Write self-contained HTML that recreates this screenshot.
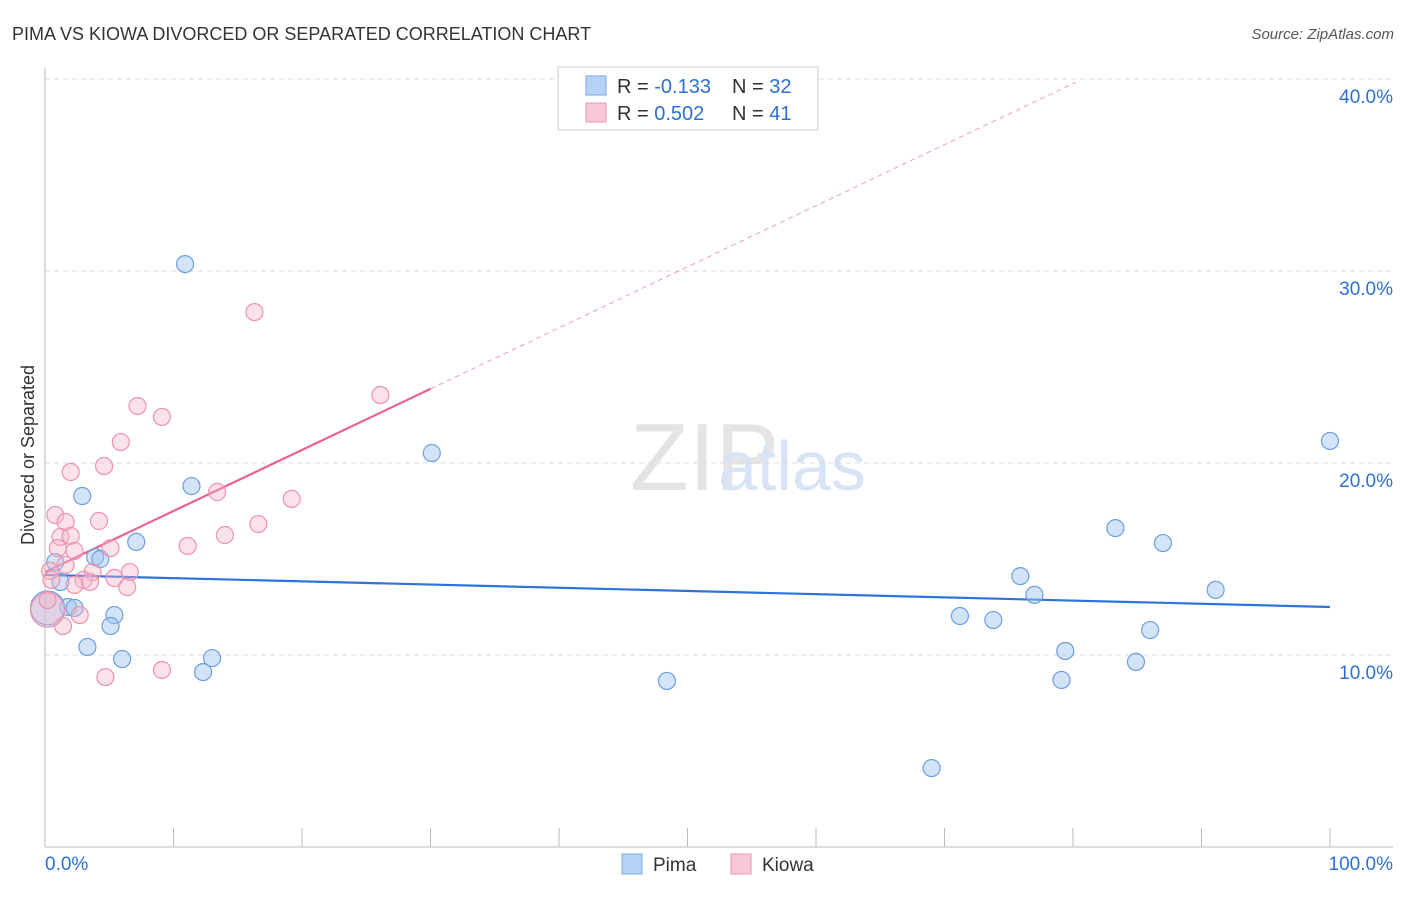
<!DOCTYPE html>
<html><head><meta charset="utf-8"><style>
body{margin:0;background:#fff;font-family:"Liberation Sans",sans-serif}
svg text{font-family:"Liberation Sans",sans-serif}
</style></head><body>
<svg width="1406" height="892" xmlns="http://www.w3.org/2000/svg" id="chart">
<text x="12" y="40" font-size="18" fill="#333">PIMA VS KIOWA DIVORCED OR SEPARATED CORRELATION CHART</text>
<text x="1394" y="39" font-size="15" fill="#555" text-anchor="end" font-style="italic">Source: ZipAtlas.com</text>
<text x="630" y="490" font-size="96" fill="#e4e4e4" font-family="Liberation Serif">ZIP</text>
<text x="718" y="490" font-size="70" fill="#d6e4f5">atlas</text>
<text transform="translate(34,455) rotate(-90)" font-size="18" fill="#333" text-anchor="middle">Divorced or Separated</text>
<g id="grid"></g><g id="ticks"></g><g id="lines"></g><g id="pts"></g>
<g>
<rect x="558" y="67" width="260" height="63" fill="#fff" stroke="#ccc"/>
<rect x="586" y="76" width="20" height="19" fill="#b6d3f5" stroke="#7aa8e0"/>
<rect x="586" y="103" width="20" height="19" fill="#f9c8d6" stroke="#e99ab2"/>
<text x="617" y="93" font-size="20" fill="#333">R = <tspan fill="#2d6fd6">-0.133</tspan><tspan x="732">N = </tspan><tspan fill="#2d6fd6">32</tspan></text>
<text x="617" y="120" font-size="20" fill="#333">R = <tspan fill="#2d6fd6"> 0.502</tspan><tspan x="732">N = </tspan><tspan fill="#2d6fd6">41</tspan></text>
</g>
<g>
<rect x="622" y="854" width="20" height="20" fill="#b6d3f5" stroke="#7aa8e0"/>
<text x="653" y="871" font-size="19" fill="#333">Pima</text>
<rect x="731" y="854" width="20" height="20" fill="#f9c8d6" stroke="#e99ab2"/>
<text x="762" y="871" font-size="19" fill="#333">Kiowa</text>
</g>
</svg>
<script>
const yTicks=[10,20,30,40];
const yTickLabels=["10.0%","20.0%","30.0%","40.0%"];
const xTickLabels=["0.0%","100.0%"];
const pimaX=[10.9,30.1,2.9,11.4,7.1,3.9,4.3,0.8,1.2,1.8,2.3,5.4,5.1,3.3,6.0,13.0,12.3,48.4,100,83.3,87.0,75.9,77.0,71.2,73.8,86.0,91.1,79.4,84.9,79.1,69.0,0.2];
const pimaY=[30.36,20.52,18.28,18.8,15.89,15.1,15.0,14.84,13.8,12.5,12.45,12.08,11.51,10.42,9.79,9.84,9.11,8.65,21.15,16.61,15.83,14.11,13.13,12.03,11.82,11.3,13.39,10.21,9.64,8.7,4.11,12.45];
const kiowaX=[16.3,26.1,7.2,9.1,5.9,4.6,2.0,13.4,19.2,0.8,1.6,4.2,16.6,14.0,1.2,2.0,11.1,5.1,2.3,1.0,1.6,0.4,3.7,6.6,3.0,0.5,5.4,3.5,6.4,2.3,2.7,1.4,4.7,9.1,0.2,0.2];
const kiowaY=[27.86,23.54,22.97,22.4,21.09,19.84,19.53,18.49,18.13,17.29,16.93,16.98,16.82,16.25,16.15,16.2,15.68,15.57,15.42,15.57,14.69,14.38,14.32,14.32,13.91,13.91,14.01,13.8,13.54,13.65,12.08,11.51,8.85,9.22,12.34,12.86];
const pimaTrend=[14.17,12.5]; // y at x=0, x=100
const kiowaTrend=[14.32,0.318]; // intercept, slope
const X=v=>45+v*12.85, Y=v=>847-v*19.2;
const NS="http://www.w3.org/2000/svg";
function mk(p,t,a){const e=document.createElementNS(NS,t);for(const k in a)e.setAttribute(k,a[k]);document.getElementById(p).appendChild(e);return e;}
yTicks.forEach((t,i)=>{
 const g=mk('grid','line',{x1:45,x2:1393,y1:Y(t),y2:Y(t),stroke:'#ddd','stroke-dasharray':'5,4'});
 
 
 const l=mk('ticks','text',{x:1393,y:Y(t)+24,'font-size':19,fill:'#2d6fd6','text-anchor':'end'});l.textContent=yTickLabels[i];
 
 
});
const ax=mk('ticks','line',{x1:45,x2:45,y1:68,y2:847,stroke:'#bbb'});


const bx=mk('ticks','line',{x1:45,x2:1393,y1:847,y2:847,stroke:'#bbb'});


for(let i=0;i<=10;i++){const t=mk('ticks','line',{x1:X(i*10),x2:X(i*10),y1:828,y2:847,stroke:'#bbb'});
 
 }
[[0,'start',45],[100,'end',1393]].forEach((d,i)=>{const t=mk('ticks','text',{x:d[2],y:870,'font-size':19,fill:'#2d6fd6','text-anchor':d[1]});t.textContent=xTickLabels[i];
 
 });
function dot(x,y,r,f,s,name){const c=mk('pts','circle',{cx:X(x),cy:Y(y),r:r,fill:f,stroke:s,'stroke-width':1.2});
 
 }
pimaX.forEach((x,i)=>dot(x,pimaY[i],i==pimaX.length-1?17:8.5,'rgba(160,196,240,0.45)','#6c9fe0','pima-point'));
kiowaX.forEach((x,i)=>dot(x,kiowaY[i],i==kiowaX.length-2?17:8.5,'rgba(246,180,200,0.4)','#eb92ad','kiowa-point'));
const pl=mk('lines','line',{x1:X(0),y1:Y(pimaTrend[0]),x2:X(100),y2:Y(pimaTrend[1]),stroke:'#2f72d8','stroke-width':2.2});


const kf=x=>kiowaTrend[0]+kiowaTrend[1]*x;
const kl=mk('lines','line',{x1:X(0),y1:Y(kf(0)),x2:X(30),y2:Y(kf(30)),stroke:'#e8648e','stroke-width':2.2});


const kd=mk('lines','line',{x1:X(30),y1:Y(kf(30)),x2:X(80.2),y2:Y(kf(80.2)),stroke:'#efa0b8','stroke-width':1,'stroke-dasharray':'5,4'});


</script>
</body></html>
